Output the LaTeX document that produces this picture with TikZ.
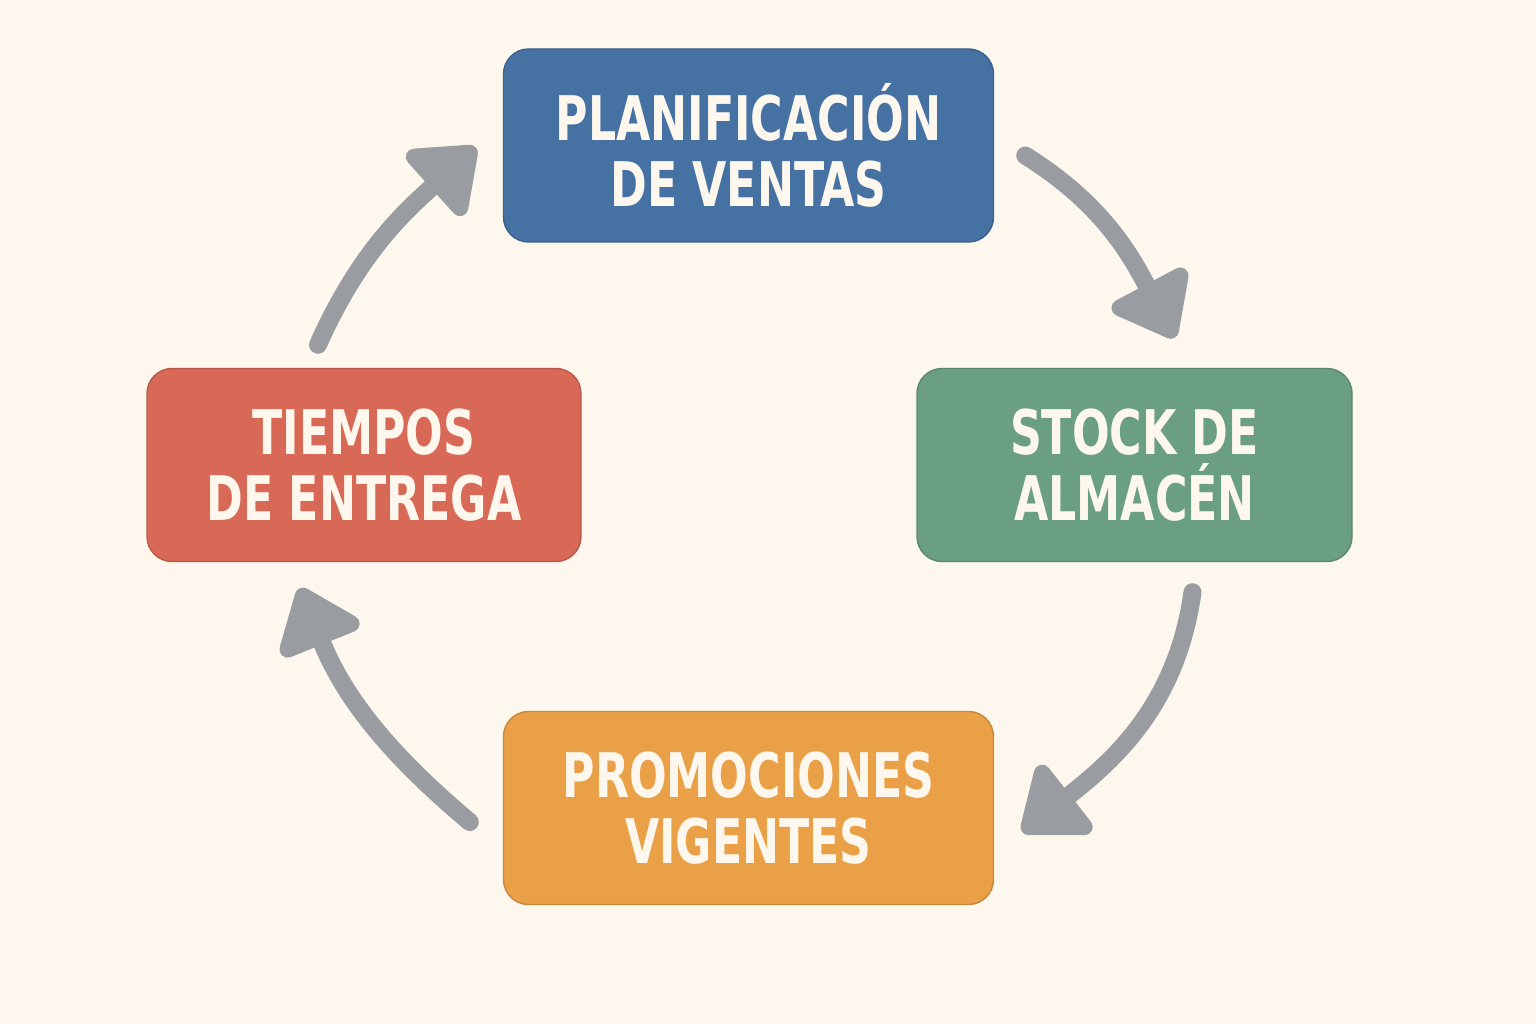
\documentclass[tikz,border=0pt]{standalone}
\usepackage{fontspec}
\newfontfamily\boxfont{DejaVu Sans Condensed}[FakeStretch=0.8]
\usetikzlibrary{arrows.meta}

\definecolor{bgcream}{HTML}{FDF7EE}
\definecolor{planblue}{HTML}{4672A3}
\definecolor{stockgreen}{HTML}{6B9F83}
\definecolor{promoorange}{HTML}{E9A047}
\definecolor{tiemred}{HTML}{D96957}
\definecolor{cyclegray}{HTML}{999DA1}

\tikzset{
  box/.style={rounded corners=0.25cm, minimum width=4.9cm, minimum height=1.93cm,
    inner sep=0pt, align=center, text=bgcream, draw=#1!85!black, line width=0.4pt, fill=#1,
    font=\boxfont\bfseries\fontsize{17.5}{18.8}\selectfont},
  cycarrow/.style={draw=cyclegray, line width=0.18cm, line cap=round,
    -{Triangle[length=0.66cm, width=0.98cm, round]}}
}

\begin{document}
\begin{tikzpicture}
\fill[bgcream] (0,0) rectangle (15.36,10.24);
\useasboundingbox (0,0) rectangle (15.36,10.24);

\node[box=planblue] (plan) at (7.485,8.785) {PLANIFICACIÓN\\DE VENTAS};
\node[box=stockgreen, minimum width=4.35cm] (stock) at (11.345,5.59) {STOCK DE\\ALMACÉN};
\node[box=promoorange] (promo) at (7.485,2.16) {PROMOCIONES\\VIGENTES};
\node[box=tiemred, minimum width=4.34cm] (tiempos) at (3.64,5.59) {TIEMPOS\\DE ENTREGA};

% cycle
\draw[cycarrow] ([xshift=0.31cm,yshift=-0.10cm]plan.east) to[out=-32, in=118] ([xshift=0.40cm,yshift=0.30cm]stock.north);
\draw[cycarrow] ([xshift=0.58cm,yshift=-0.30cm]stock.south) to[out=-98, in=38] ([xshift=0.28cm,yshift=-0.24cm]promo.east);
\draw[cycarrow] ([xshift=-0.33cm,yshift=-0.14cm]promo.west) to[out=140, in=-68] ([xshift=-0.64cm,yshift=-0.26cm]tiempos.south);
\draw[cycarrow] ([xshift=-0.46cm,yshift=0.23cm]tiempos.north) to[out=66, in=222] ([xshift=-0.27cm,yshift=-0.02cm]plan.west);
\end{tikzpicture}
\end{document}
